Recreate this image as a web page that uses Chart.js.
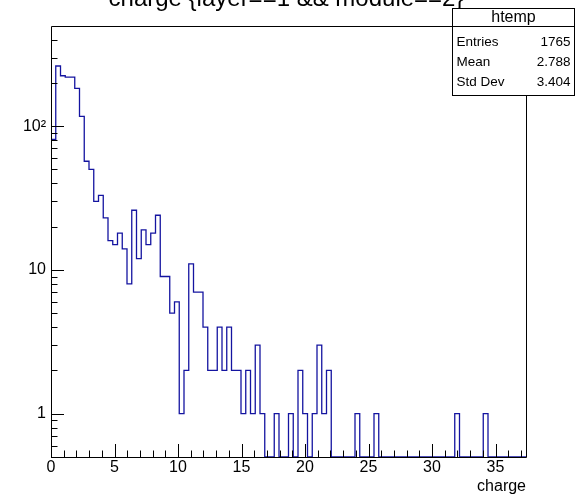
<!DOCTYPE html>
<html>
<head>
<meta charset="utf-8">
<script src="https://cdn.jsdelivr.net/npm/chart.js@4"></script>
<style>
  html, body { margin:0; padding:0; background:#fff; }
  canvas { display:block; }
</style>
</head>
<body>
<canvas id="hist" width="577" height="495"></canvas>
<script>
// histograma htemp: 100 bins de 0 a 37.4
const xMin = 0, xMax = 37.4, nBins = 100;
const yMin = 0.5, yMax = 497;

const counts = [
  81, 262, 224, 219, 219, 183, 117, 57, 50, 30,
  33, 23, 16, 15, 18, 14, 8, 26, 12, 19,
  15, 18, 24, 9, 9, 5, 6, 1, 2, 11,
  7, 7, 4, 2, 2, 4, 2, 4, 2, 2,
  1, 2, 1, 3, 1, 0, 0, 1, 0, 0,
  1, 0, 2, 1, 0, 1, 3, 1, 2, 0,
  0, 0, 0, 0, 1, 0, 0, 0, 1, 0,
  0, 0, 0, 0, 0, 0, 0, 0, 0, 0,
  0, 0, 0, 0, 0, 1, 0, 0, 0, 0,
  0, 1, 0, 0, 0, 0, 0, 0, 0, 0
];

const xTicks = [0, 5, 10, 15, 20, 25, 30, 35];
const yTicks = [1, 10, 100];
const yTickText = ['1', '10', '10²'];

const titleText = 'charge {layer==1 && module==2}';
const statsName = 'htemp';
const statsLabels = ['Entries', 'Mean', 'Std Dev'];
const statsValues = ['1765', '2.788', '3.404'];

const FONT = '"Liberation Sans", Arial, Helvetica, sans-serif';
const lineBlue = '#1414a0';

// contorno del histograma (bordes de bins)
const w = (xMax - xMin) / nBins;
const pts = [{ x: xMin, y: yMin }];
counts.forEach((c, i) => pts.push({ x: xMin + i * w, y: c > 0 ? c : yMin }));
pts.push({ x: xMin + nBins * w, y: yMin });

const rootFrame = {
  id: 'rootFrame',
  beforeDraw(chart) {
    const ctx = chart.ctx;
    ctx.save();
    ctx.fillStyle = '#fff';
    ctx.fillRect(0, 0, chart.width, chart.height);
    ctx.restore();
  },
  afterDraw(chart) {
    const ctx = chart.ctx, a = chart.chartArea;
    const xs = chart.scales.x, ys = chart.scales.y;
    ctx.save();
    ctx.strokeStyle = '#000';
    ctx.lineWidth = 1;
    ctx.beginPath();
    ctx.rect(Math.round(a.left) + 0.5, Math.round(a.top) + 0.5,
             Math.round(a.right - a.left), Math.round(a.bottom - a.top));
    ctx.stroke();

    // ticks eje x (hacia adentro)
    ctx.beginPath();
    for (let v = Math.ceil(xMin); v <= xMax; v++) {
      const px = Math.round(xs.getPixelForValue(v)) + 0.5;
      const len = v % 5 === 0 ? 13 : 6.5;
      ctx.moveTo(px, a.bottom);
      ctx.lineTo(px, a.bottom - len);
    }
    // ticks eje y log
    for (let d = -1; d <= 2; d++) {
      for (let m = 1; m <= 9; m++) {
        const v = m * Math.pow(10, d);
        if (v < yMin || v > yMax) continue;
        const py = Math.round(ys.getPixelForValue(v)) + 0.5;
        const len = m === 1 ? 13 : 6.5;
        ctx.moveTo(a.left, py);
        ctx.lineTo(a.left + len, py);
      }
    }
    ctx.stroke();

    // titulo (cortado por el borde superior)
    ctx.fillStyle = '#000';
    ctx.font = '24px ' + FONT;
    ctx.textAlign = 'center';
    ctx.textBaseline = 'alphabetic';
    ctx.fillText(titleText, 286, 6);

    // caja de estadisticas
    const bx = 452.5, by = 8.5, bw = 122, bh = 87, hh = 18;
    ctx.fillStyle = '#fff';
    ctx.fillRect(bx, by, bw, bh);
    ctx.strokeRect(bx, by, bw, bh);
    ctx.beginPath();
    ctx.moveTo(bx, by + hh);
    ctx.lineTo(bx + bw, by + hh);
    ctx.stroke();
    ctx.fillStyle = '#000';
    ctx.textBaseline = 'middle';
    ctx.font = '16px ' + FONT;
    ctx.textAlign = 'center';
    ctx.fillText(statsName, bx + bw / 2, by + hh / 2 + 0.5);
    ctx.font = '13.5px ' + FONT;
    statsLabels.forEach((lab, i) => {
      const ty = 42 + i * 20;
      ctx.textAlign = 'left';
      ctx.fillText(lab, bx + 4, ty);
      ctx.textAlign = 'right';
      ctx.fillText(statsValues[i], bx + bw - 4, ty);
    });
    ctx.restore();
  }
};

new Chart(document.getElementById('hist'), {
  type: 'line',
  data: {
    datasets: [{
      data: pts,
      stepped: true,
      borderColor: lineBlue,
      borderWidth: 1.3,
      pointRadius: 0,
      fill: false
    }]
  },
  options: {
    responsive: false,
    animation: false,
    layout: { padding: { left: 0, top: 26, right: 51, bottom: 0 } },
    plugins: { legend: { display: false }, tooltip: { enabled: false } },
    scales: {
      x: {
        type: 'linear', min: xMin, max: xMax,
        grid: { display: false, drawTicks: false }, border: { display: false },
        afterBuildTicks: s => { s.ticks = xTicks.map(v => ({ value: v })); },
        afterFit: s => { s.height = 38; },
        ticks: { color: '#000', font: { family: FONT, size: 16 }, padding: 1, maxRotation: 0 },
        title: { display: true, text: 'charge', align: 'end', color: '#000',
                 font: { family: FONT, size: 16 }, padding: { top: 0, bottom: -1 } }
      },
      y: {
        type: 'logarithmic', min: yMin, max: yMax,
        grid: { display: false, drawTicks: false }, border: { display: false },
        afterBuildTicks: s => { s.ticks = yTicks.map(v => ({ value: v })); },
        afterFit: s => { s.width = 51; },
        ticks: {
          color: '#000', font: { family: FONT, size: 16 }, padding: 5,
          callback: v => yTickText[yTicks.indexOf(v)] ?? ''
        }
      }
    }
  },
  plugins: [rootFrame]
});
</script>
</body>
</html>
